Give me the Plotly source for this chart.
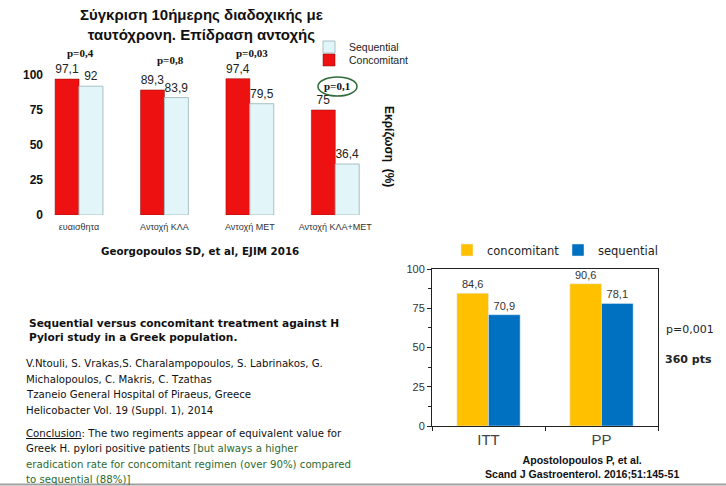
import plotly.graph_objects as go

W, H = 726, 486

# ---------------- data ----------------
cat1 = ["ευαισθητα", "Αντοχή ΚΛΑ", "Αντοχή ΜΕΤ", "Αντοχή ΚΛΑ+ΜΕΤ"]
concomitant1 = [97.1, 89.3, 97.4, 75]
sequential1 = [92, 83.9, 79.5, 36.4]
pvalues1 = ["p=0,4", "p=0,8", "p=0,03", "p=0,1"]
yticks1 = [0, 25, 50, 75, 100]

cat2 = ["ITT", "PP"]
concomitant2 = [84.6, 90.6]
sequential2 = [70.9, 78.1]
yticks2 = [0, 25, 50, 75, 100]


def fmt(v):
    s = ("%.1f" % v).rstrip("0").rstrip(".")
    return s.replace(".", ",")


def px(x):
    return x / W


def py(y):
    return 1 - y / H


fig = go.Figure()

# ---------- chart 1 ----------
fig.add_trace(go.Bar(
    x=cat1, y=concomitant1, name="Concomitant",
    marker=dict(color="#EE1111", line=dict(color="#8A0A0A", width=0.5)),
    text=[fmt(v) for v in concomitant1], textposition="outside",
    textfont=dict(family="Liberation Sans", size=12, color="#222"),
    cliponaxis=False, xaxis="x", yaxis="y", legend="legend3", showlegend=True,
))
fig.add_trace(go.Bar(
    x=cat1, y=sequential1, name="Sequential",
    marker=dict(color="#E2F6F9", line=dict(color="#A9C0C4", width=1)),
    text=[fmt(v) for v in sequential1], textposition="outside",
    textfont=dict(family="Liberation Sans", size=12, color="#222"),
    cliponaxis=False, xaxis="x", yaxis="y", legend="legend", showlegend=True,
))

# ---------- chart 2 ----------
fig.add_trace(go.Bar(
    x=cat2, y=concomitant2, name="concomitant",
    marker=dict(color="#FFC000"),
    text=[fmt(v) for v in concomitant2], textposition="outside",
    textfont=dict(family="Liberation Sans", size=11, color="#333"),
    cliponaxis=False, xaxis="x2", yaxis="y2", legend="legend2", showlegend=True,
))
fig.add_trace(go.Bar(
    x=cat2, y=sequential2, name="sequential",
    marker=dict(color="#0070C0"),
    text=[fmt(v) for v in sequential2], textposition="outside",
    textfont=dict(family="Liberation Sans", size=11, color="#333"),
    cliponaxis=False, xaxis="x2", yaxis="y2", legend="legend2", showlegend=True,
))

leg1font = dict(family="Liberation Sans", size=10.5, color="#222")
fig.update_layout(
    width=W, height=H,
    showlegend=True,
    margin=dict(l=0, r=0, t=0, b=0, autoexpand=False),
    paper_bgcolor="white", plot_bgcolor="white",
    barmode="group",
    bargap=0.44, bargroupgap=0.0,
    xaxis=dict(domain=[px(48), px(378)], range=[-0.363, 3.5], anchor="y",
               showline=False, showgrid=False, zeroline=False, ticks="",
               automargin=False, ticklabelstandoff=5,
               tickfont=dict(family="Liberation Sans", size=9, color="#333")),
    yaxis=dict(domain=[py(215), py(61)], range=[0, 110], anchor="x",
               tickvals=yticks1, showline=False, showgrid=False, zeroline=False,
               ticks="", ticklabelstandoff=4, automargin=False,
               tickfont=dict(family="Liberation Sans", size=12, color="#111",
                             weight="bold")),
    xaxis2=dict(domain=[px(432), px(658)], range=[-0.5, 1.5], anchor="y2",
                showline=True, mirror=True, linecolor="#222", linewidth=1,
                showgrid=False, zeroline=False, ticks="outside", ticklen=4,
                tickcolor="#222", tickson="boundaries", automargin=False,
                tickfont=dict(family="Liberation Sans", size=15, color="#444")),
    yaxis2=dict(domain=[py(426), py(269)], range=[0, 100], anchor="x2",
                tickvals=yticks2, showline=True, mirror=True, linecolor="#222",
                linewidth=1, showgrid=False, zeroline=False, ticks="outside",
                ticklen=4, tickcolor="#222", automargin=False,
                minor=dict(dtick=12.5, ticks="outside", ticklen=3, tickcolor="#222"),
                tickfont=dict(family="Liberation Sans", size=11, color="#333")),
    legend=dict(x=px(309), y=py(47), xanchor="left", yanchor="middle",
                orientation="v", font=leg1font, visible=True,
                bgcolor="rgba(0,0,0,0)", itemwidth=30),
    legend3=dict(x=px(309), y=py(60), xanchor="left", yanchor="middle",
                 orientation="v", font=leg1font, visible=True,
                 bgcolor="rgba(0,0,0,0)", itemwidth=30),
    legend2=dict(x=px(447), y=py(250), xanchor="left", yanchor="middle",
                 orientation="h", entrywidth=66, visible=True,
                 font=dict(family="DejaVu Sans", size=11.5, color="#222"),
                 bgcolor="rgba(0,0,0,0)"),
)

ann = []


def text(x, y, t, font, xanchor="center", **kw):
    ann.append(dict(x=px(x), y=py(y), xref="paper", yref="paper",
                    xanchor=xanchor, yanchor="middle", text=t, showarrow=False,
                    font=font, **kw))


# chart 1 title
text(201, 24, "<b>Σύγκριση 10ήμερης διαδοχικής με<br>ταυτόχρονη. Επίδραση αντοχής</b>",
     dict(family="Liberation Sans", size=15, color="#111"), align="center")
# p-values chart 1
p_pos = [(80, 53), (170, 60), (252, 53), (337, 86)]
for t, (x, y) in zip(pvalues1, p_pos):
    text(x, y, "<b>%s</b>" % t,
         dict(family="Liberation Serif", size=11, color="#111"))
# right axis title chart 1
text(389, 146, "<b>Εκρίζωση  (%)</b>",
     dict(family="Liberation Sans", size=12, color="#111"), textangle=90)
# caption chart 1
text(200, 251, "<b>Georgopoulos SD, et al, EJIM 2016</b>",
     dict(family="DejaVu Sans", size=10.3, color="#111"))

# text block left
GREEN = "#2E6B2E"
text(27, 330, "<b>Sequential versus concomitant treatment against H<br>Pylori study in a Greek population.</b>",
     dict(family="DejaVu Sans", size=10.6, color="#111"), xanchor="left", align="left")
lines = [
    (363, "V.Ntouli, S. Vrakas,S. Charalampopoulos, S. Labrinakos, G."),
    (379, "Michalopoulos, C. Makris, C. Tzathas"),
    (394, "Tzaneio General Hospital of Piraeus, Greece"),
    (410, "Helicobacter Vol. 19 (Suppl. 1), 2014"),
    (433, "<u>Conclusion</u>: The two regiments appear of equivalent value for"),
    (448, "Greek H. pylori positive patients <span style='color:%s'>[but always a higher</span>" % GREEN),
    (464, "<span style='color:%s'>eradication rate for concomitant regimen (over 90%%) compared</span>" % GREEN),
    (479, "<span style='color:%s'>to sequential (88%%)]</span>" % GREEN),
]
for y, t in lines:
    text(24, y, t, dict(family="DejaVu Sans", size=10.2, color="#111"),
         xanchor="left")

# chart 2 side texts
text(690, 329, "p=0,001", dict(family="DejaVu Sans", size=11, color="#222"))
text(688, 359, "<b>360 pts</b>", dict(family="DejaVu Sans", size=11, color="#222"))
text(582, 467, "<b>Apostolopoulos P, et al.<br>Scand J Gastroenterol. 2016;51:145-51</b>",
     dict(family="Liberation Sans", size=10.6, color="#111"), align="center")

fig.update_layout(annotations=ann)

# ellipse around p=0,1 and bottom rule
fig.add_shape(type="circle", xref="paper", yref="paper",
              x0=px(318), x1=px(357), y0=py(96), y1=py(77),
              line=dict(color="#2F6B3A", width=1.5))
fig.add_shape(type="line", xref="paper", yref="paper",
              x0=0, x1=1, y0=py(484.5), y1=py(484.5),
              line=dict(color="#A0A0A0", width=2))

fig.write_html(
    "out.html",
    config={"displayModeBar": False},
    post_script="document.body.style.margin='0';document.body.style.padding='0';",
)
